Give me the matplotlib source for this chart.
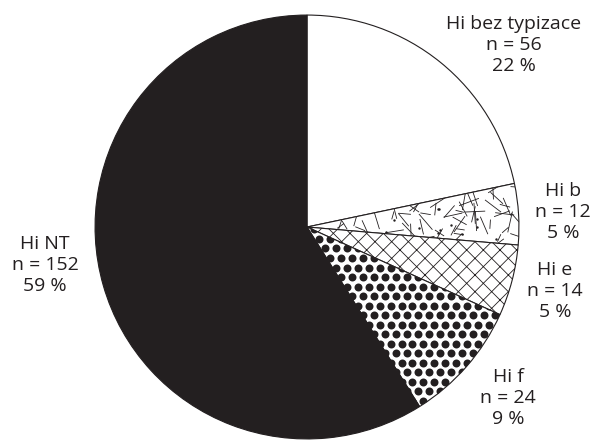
import numpy as np
import matplotlib.pyplot as plt
from matplotlib.collections import LineCollection

plt.rcParams['font.family'] = ['Open Sans', 'DejaVu Sans']
plt.rcParams['hatch.linewidth'] = 0.6

# skupiny a počty izolátů
labels = ['Hi bez typizace', 'Hi b', 'Hi e', 'Hi f', 'Hi NT']
counts = [56, 12, 14, 24, 152]
percents = [22, 5, 5, 9, 59]

ink = '#231f20'

fig = plt.figure(figsize=(5.95, 4.41), dpi=100)
# kruh o poloměru 213 px se středem v (307, 227)
ax = fig.add_axes([94 / 595, 1 / 441, 426 / 595, 426 / 441])

wedges, _ = ax.pie(counts, startangle=90, counterclock=False,
                   colors=['white', 'white', 'white', 'white', ink],
                   wedgeprops=dict(edgecolor=ink, linewidth=0.8))
ax.set_xlim(-1.005, 1.005)
ax.set_ylim(-1.005, 1.005)
ax.set_aspect('equal')
ax.axis('off')

px = 1 / 213  # jeden pixel v datových souřadnicích

# Hi e - šrafování mřížkou
wedges[2].set_hatch('xx')

# Hi f - velké černé tečky
w = wedges[3]
step = 11 * px
pts = []
for j, y in enumerate(np.arange(-1, 1, step * 0.87)):
    off = (j % 2) * step / 2
    for x in np.arange(-1 + off, 1, step):
        pts.append((x, y))
pts = np.array(pts)
dots = ax.scatter(pts[:, 0], pts[:, 1], s=33, color=ink, linewidths=0, zorder=3)
dots.set_clip_path(w)

# Hi b - krátké čárky a tečky
w = wedges[1]
rng = np.random.default_rng(7)
t1, t2 = np.radians(w.theta1), np.radians(w.theta2)
n = 60
r = np.sqrt(rng.uniform(0.02, 1, n))
th = rng.uniform(t1, t2, n)
cx, cy = r * np.cos(th), r * np.sin(th)
ang = rng.uniform(0, np.pi, n)
ln = rng.uniform(8, 22, n) * px
segs = [[(x - l / 2 * np.cos(a), y - l / 2 * np.sin(a)),
         (x + l / 2 * np.cos(a), y + l / 2 * np.sin(a))]
        for x, y, a, l in zip(cx, cy, ang, ln)]
lc = LineCollection(segs, colors=ink, linewidths=0.6, zorder=3)
ax.add_collection(lc)
lc.set_clip_path(w)
m = 12
r = np.sqrt(rng.uniform(0.05, 0.95, m))
th = rng.uniform(t1, t2, m)
sp = ax.scatter(r * np.cos(th), r * np.sin(th), s=3, color=ink, linewidths=0, zorder=3)
sp.set_clip_path(w)

# popisky (střed textu v pixelech)
label_pos = [(514, 45), (563, 212), (555, 291), (508, 398), (45, 265)]
for lab, c, p, (x, y) in zip(labels, counts, percents, label_pos):
    fig.text(x / 595, 1 - y / 441, f'{lab}\nn = {c}\n{p} %', ha='center', va='center',
             fontsize=14, color=ink, linespacing=1.2)

fig.savefig('out.png', dpi=100)
